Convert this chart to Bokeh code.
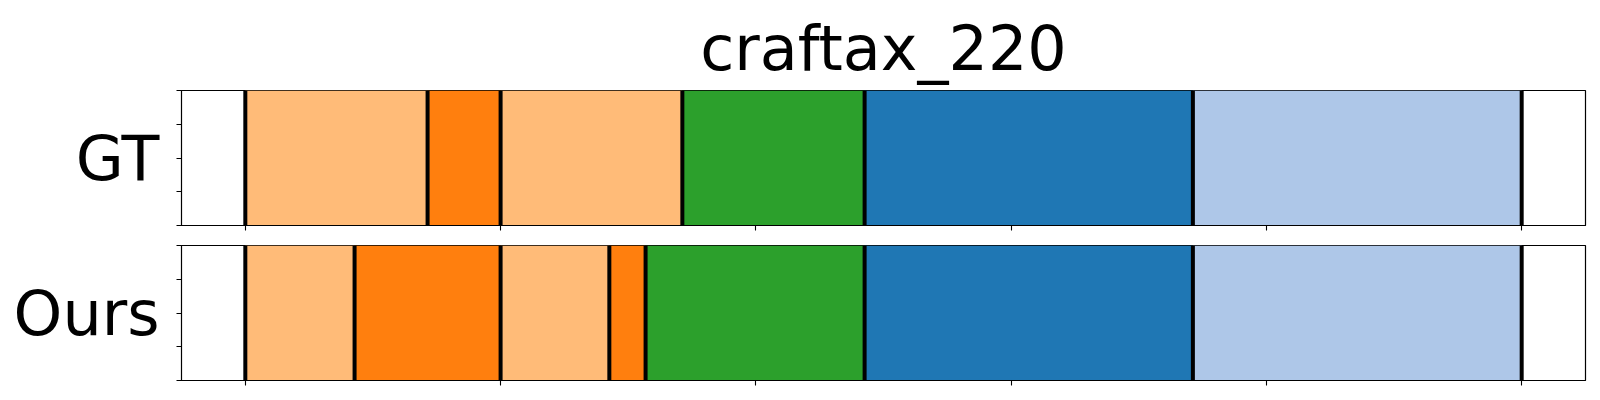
from bokeh.plotting import figure
from bokeh.layouts import column
from bokeh.models import Range1d, FixedTicker
from bokeh.embed import file_html
from bokeh.resources import INLINE

title_text = "craftax_220"
row_names = ["GT", "Ours"]

# segment boundaries (frame index) and class of each segment
gt_bounds = [0, 35.7, 50, 85.6, 121.3, 185.6, 250]
gt_classes = [0, 1, 0, 2, 3, 4]
ours_bounds = [0, 21.4, 50, 71.3, 78.4, 121.3, 185.6, 250]
ours_classes = [0, 1, 0, 1, 2, 3, 4]

palette = ["#ffbb78", "#ff7f0e", "#2ca02c", "#1f77b4", "#aec7e8"]
x_ticks = [0, 50, 100, 150, 200, 250]
y_ticks = [0, 0.25, 0.5, 0.75, 1.0]

FONT = "DejaVu Sans"


def make_panel(name, bounds, classes, top_border, bottom_border, title=None):
    frame_h = 135
    p = figure(width=1592, height=frame_h + top_border + bottom_border,
               output_backend="svg", toolbar_location=None,
               x_range=Range1d(-12.5, 262.5), y_range=Range1d(0, 1),
               min_border_left=181, min_border_right=7,
               min_border_top=top_border, min_border_bottom=bottom_border)
    if title:
        p.title.text = title
        p.title.align = "center"
        p.title.vertical_align = "top"
        p.title.text_font = FONT
        p.title.text_font_size = "62px"
        p.title.text_font_style = "normal"
        p.title.text_color = "black"
        p.title.standoff = 8
    p.quad(left=bounds[:-1], right=bounds[1:], bottom=0, top=1,
           fill_color=[palette[c] for c in classes], line_color=None)
    p.segment(x0=bounds, x1=bounds, y0=[0] * len(bounds), y1=[1] * len(bounds),
              line_color="black", line_width=4)
    p.grid.visible = False
    p.outline_line_color = "black"
    p.outline_line_width = 1.2
    for ax, ticks in ((p.xaxis[0], x_ticks), (p.yaxis[0], y_ticks)):
        ax.ticker = FixedTicker(ticks=ticks)
        ax.major_tick_out = 5
        ax.major_tick_in = 0
        ax.minor_tick_out = 0
        ax.minor_tick_in = 0
        ax.major_tick_line_width = 1.1
        ax.major_tick_line_color = "black"
        ax.axis_line_color = "black"
        ax.major_label_overrides = {t: "" for t in ticks}
        ax.major_label_standoff = 0
    p.yaxis.axis_label = name
    p.yaxis.axis_label_orientation = "horizontal"
    p.yaxis.axis_label_text_font = FONT
    p.yaxis.axis_label_text_font_size = "62px"
    p.yaxis.axis_label_text_font_style = "normal"
    p.yaxis.axis_label_text_color = "black"
    p.yaxis.axis_label_standoff = 17
    p.background_fill_color = "white"
    p.border_fill_color = "white"
    return p


p1 = make_panel(row_names[0], gt_bounds, gt_classes, 90, 10, title=title_text)
p2 = make_panel(row_names[1], ours_bounds, ours_classes, 10, 12)
layout = column(p1, p2, spacing=0)

open("out.html", "w").write(file_html(layout, INLINE))
